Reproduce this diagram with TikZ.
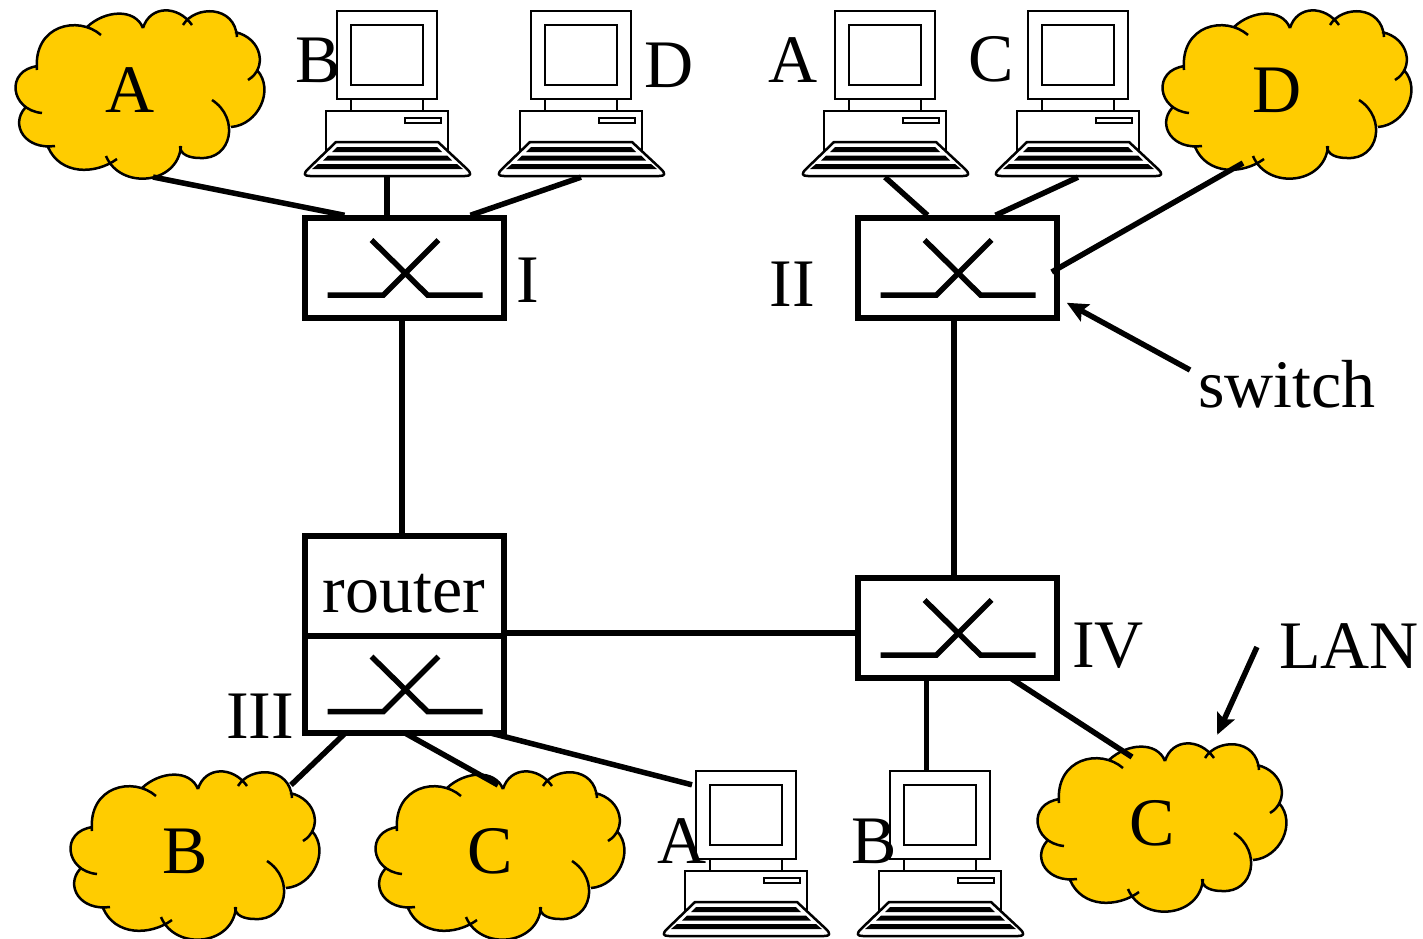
\documentclass[tikz,border=0pt]{standalone}
\usepackage{fontspec}
\setmainfont{Liberation Serif}
\usetikzlibrary{calc,arrows.meta}
\definecolor{lanyellow}{RGB}{255,204,0}
% outline of one LAN, the argument joins the lobes
\newcommand{\lanoutline}[1]{(37,70) .. controls (33,25) and (78,15) .. (101,35) #1
  (87,27) .. controls (105,10) and (135,8) .. (143,28) #1
  (143,28) .. controls (150,5) and (178,5) .. (192,25) #1
  (183,25) .. controls (195,5) and (235,5) .. (237,37) #1
  (235,32) .. controls (262,38) and (268,68) .. (248,80) #1
  (257,70) .. controls (275,90) and (258,125) .. (231,127) #1
  (212,100) .. controls (240,118) and (232,160) .. (200,158) .. controls (190,158) and (180,155) .. (180,146) #1
  (181,146) .. controls (178,185) and (120,190) .. (106,156) #1
  (117,159) .. controls (95,175) and (60,175) .. (48,147) #1
  (55,146) .. controls (25,150) and (10,125) .. (25,108) #1
  (42,113) .. controls (10,110) and (5,70) .. (38,66)}
\tikzset{
  lbl/.style={inner sep=0pt, font=\fontsize{68}{72}\selectfont},
  link/.style={line width=5.5pt},
  swbox/.style={draw, line width=5.5pt, fill=white, inner sep=0pt, minimum width=199pt, minimum height=100pt},
  lanbox/.style={inner sep=0pt, minimum width=250pt, minimum height=170pt},
  pcbox/.style={inner sep=0pt, minimum width=165pt, minimum height=166pt},
  lan/.pic={
    \begin{scope}[shift={(-130,-92)}]
      \fill[lanyellow] \lanoutline{--} -- cycle;
      \draw[line width=2.5pt] \lanoutline{};
    \end{scope}
  },
  crossbar/.pic={
    \draw[line width=5.5pt] (-77,27) -- (-21,27) -- (34,-28);
    \draw[line width=5.5pt] (-33,-28) -- (23,27) -- (78,27);
  },
  computer/.pic={
    \begin{scope}[shift={(-387,-94)}, line width=2.5pt]
      \draw[fill=white] (337,11) rectangle (437,99);
      \draw (351,25) rectangle (423,85);
      \draw (351,99) -- (351,111) (423,99) -- (423,111);
      \draw[fill=white] (326,111) rectangle (448,155);
      \draw (405,118) rectangle (441,123);
      \draw[fill=white, line join=round] (336,142) -- (438,142) -- (467,169) .. controls (472,174) and (471,176) .. (465,176) -- (310,176) .. controls (304,176) and (303,174) .. (308,169) -- cycle;
      % keys
      \fill (337,147) -- (437,147) -- (442,152) -- (332,152) -- cycle;
      \fill (328,155.5) -- (447,155.5) -- (452,160.5) -- (323,160.5) -- cycle;
      \fill (318,164) -- (457,164) -- (463,169) -- (312,169) -- cycle;
    \end{scope}
  }
}
\begin{document}
\begin{tikzpicture}[x=1pt, y=-1pt, >=Stealth]
\useasboundingbox (0,0) rectangle (1423,938);
% LANs
\foreach \name/\txt/\x/\y/\ty in {lanAt/A/130/92/90.5, lanDt/D/1277/92/90.5, lanBb/B/185/853/851.5, lanCb/C/490/853/851.5, lanCr/C/1152/825/823.5} {
  \pic at (\x,\y) {lan};
  \node[lanbox] (\name) at (\x,\y) {};
  \node[lbl] (\name txt) at (\x,\ty) {\txt};
}
% Computers
\foreach \name/\x/\y in {pcBt/387/94, pcDt/581/94, pcAt/885/94, pcCt/1078/94, pcAb/746/854, pcBb/940/854} {
  \node[pcbox] (\name) at (\x,\y) {};
  \pic at (\x,\y) {computer};
}
% Switches
\foreach \name/\x/\y in {swI/404.5/268, swII/957.5/268, swIV/957.5/628} {
  \node[swbox] (\name) at (\x,\y) {};
  \pic at (\name) {crossbar};
}
\node[swbox] (router) at (404.5,586) {};
\node[swbox, minimum height=97pt] (swIII) at (404.5,684.5) {};
\pic at (swIII) {crossbar};
% Labels
\node[lbl] (lblRouter) at (404,594) {router};
\node[lbl] (lblBt) at (318,60) {B};
\node[lbl] (lblDt) at (669,65.5) {D};
\node[lbl] (lblAt) at (793,60) {A};
\node[lbl] (lblCt) at (991,59.5) {C};
\node[lbl] (lblI) at (528,280) {I};
\node[lbl] (lblII) at (792,284) {II};
\node[lbl] (lblIII) at (260,716) {III};
\node[lbl] (lblIV) at (1108,646) {IV};
\node[lbl] (lblAb) at (682,841) {A};
\node[lbl] (lblBb) at (874,841) {B};
\node[lbl] (lblSwitch) at (1287,384) {switch};
\node[lbl] (lblLAN) at (1349,646) {LAN};
% Links
\draw[link] ($(lanAt)+(23,85)$) -- ($(swI.north)+(-60,0)$);
\draw[link] (pcBt.south) -- (pcBt.south |- swI.north);
\draw[link] (pcDt.south) -- ($(swI.north)+(66,0)$);
\draw[link] (pcAt.south) -- ($(swII.north)+(-30,0)$);
\draw[link] (pcCt.south) -- ($(swII.north)+(38,0)$);
\draw[link] ($(lanDt)+(-34,71)$) -- ($(swII.east)+(-8,4)$);
\draw[link] ($(swI.south)+(-2.5,0)$) -- ($(router.north)+(-2.5,0)$);
\draw[link] ($(swII.south)+(-3.5,0)$) -- ($(swIV.north)+(-3.5,0)$);
\draw[link] ($(swIV.west)+(0,5)$) -- (router.east |- {$(swIV.west)+(0,5)$});
\draw[link] ($(swIII.south)+(-60,-2)$) -- ($(lanBb)+(106,-68)$);
\draw[link] ($(swIII.south)+(0,-3)$) -- ($(lanCb)+(8,-68)$);
\draw[link] ($(swIII.south)+(85,-3)$) -- ($(pcAb.north)+(-54,14)$);
\draw[link] ($(swIV.south)+(-31,0)$) -- (pcBb.north -| {$(swIV.south)+(-31,0)$});
\draw[link] ($(swIV.south)+(54,-2)$) -- ($(lanCr)+(-20,-68)$);
% Arrows
\draw[link, -{Stealth[length=21pt,width=19pt,inset=4pt]}] ($(lblSwitch.west)+(-8,-14)$) -- ($(swII.south east)+(7,-18)$);
\draw[link, -{Stealth[length=21pt,width=19pt,inset=4pt]}] ($(lblLAN.west)+(-22,1)$) -- ($(lanCr.north east)+(-60,-5)$);
\end{tikzpicture}
\end{document}
